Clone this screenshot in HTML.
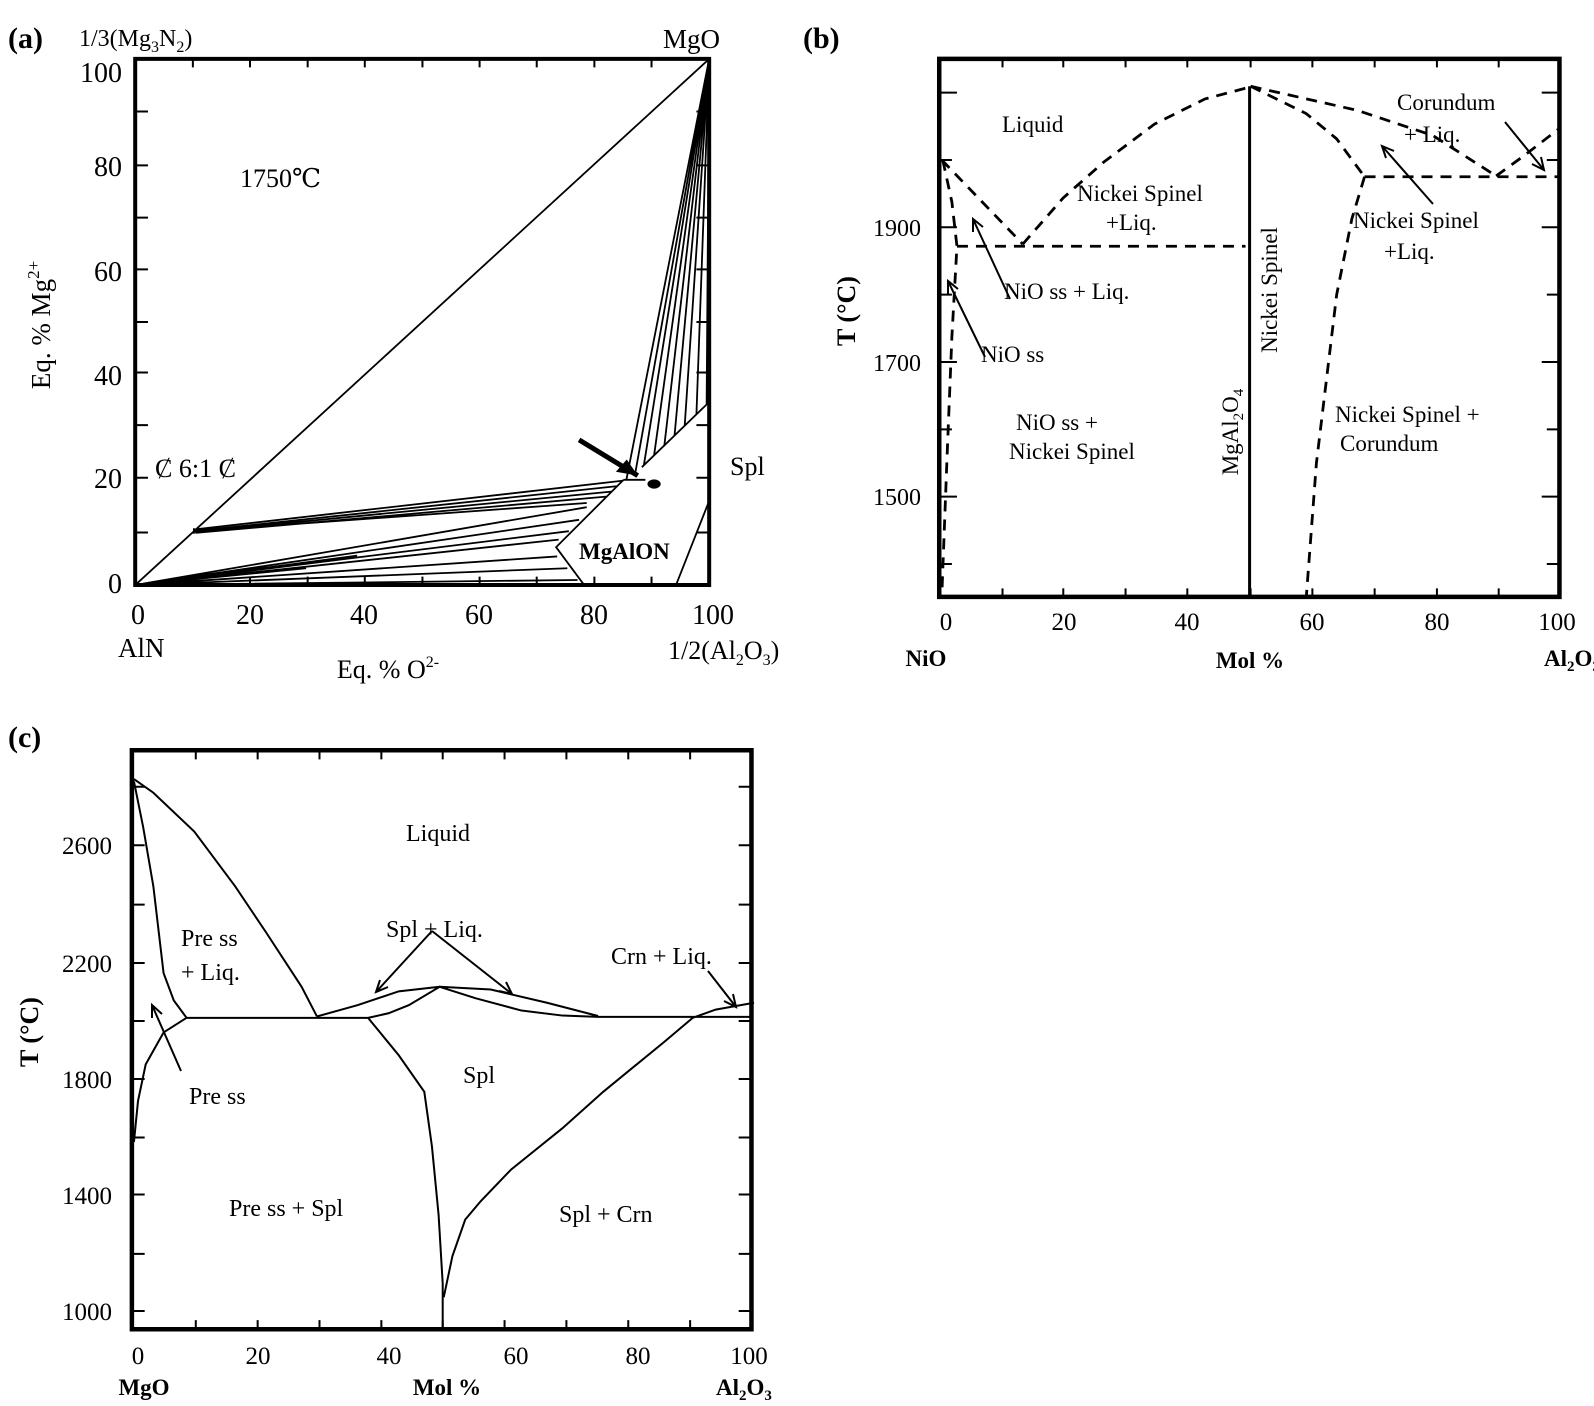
<!DOCTYPE html>
<html><head><meta charset="utf-8"><style>
html,body{margin:0;padding:0;background:#fff}
svg{display:block}
text{font-family:"Liberation Serif","DejaVu Serif",serif;fill:#000}
.b{font-weight:bold}
</style></head><body>
<svg width="1594" height="1406" viewBox="0 0 1594 1406" xmlns="http://www.w3.org/2000/svg">
<defs>
<marker id="ahf" markerUnits="userSpaceOnUse" markerWidth="60" markerHeight="60" refX="50" refY="30" orient="auto" viewBox="0 0 60 60">
<path d="M10 12 L50 30 L10 48 Z" fill="#000"/>
</marker>
</defs>

<!-- ============ PANEL A ============ -->
<g transform="scale(0.5102,0.4209)" fill="none" stroke="#000">
<rect x="265" y="140" width="1125" height="1250" stroke-width="4" vector-effect="non-scaling-stroke"/>
<path vector-effect="non-scaling-stroke" stroke-width="2" d="M378 1390V1370M490 1390V1370M603 1390V1370M715 1390V1370M828 1390V1370M940 1390V1370M1052 1390V1370M1165 1390V1370M1277 1390V1370
M378 140V160M490 140V160M603 140V160M715 140V160M828 140V160M940 140V160M1052 140V160M1165 140V160M1277 140V160
M265 265H290M265 393H290M265 517H290M265 640H290M265 765H290M265 885H290M265 1010H290M265 1135H290M265 1265H290
M1390 265H1365M1390 393H1365M1390 517H1365M1390 640H1365M1390 765H1365M1390 885H1365M1390 1010H1365M1390 1135H1365M1390 1265H1365"/>
<path vector-effect="non-scaling-stroke" stroke-width="1.8" d="M265 1390L1390 140
M1390 140L1228 1138M1390 140L1245 1125M1390 140L1262 1105M1390 140L1282 1082M1390 140L1302 1060M1390 140L1322 1036M1390 140L1342 1012M1390 140L1365 985M1390 140L1385 962
M1258 1110L1390 955
M1222 1140L1090 1300L1145 1390
M1222 1140L1265 1140
M1325 1390L1390 1190
M380 1258L1222 1142M380 1262L1210 1155M380 1264L1198 1168M383 1266L1188 1180M385 1262L1150 1195
M380 1255V1268
M265 1390L1150 1205M265 1390L1135 1235M265 1390L1115 1262M265 1390L1095 1282M265 1390L1092 1322M265 1390L1112 1350M265 1390L1132 1378
M265 1390L700 1320M265 1390L600 1350"/>
<path vector-effect="non-scaling-stroke" stroke-width="5" d="M1135 1045L1250 1130" marker-end="url(#ahf)"/>
<ellipse cx="1282" cy="1150" rx="13" ry="11" fill="#000" stroke="none"/>
</g>
<text class="b" x="8" y="48" font-size="30">(a)</text>
<text x="79" y="46" font-size="24">1/3(Mg<tspan font-size="16" dy="6">3</tspan><tspan dy="-6">N</tspan><tspan font-size="16" dy="6">2</tspan><tspan dy="-6">)</tspan></text>
<text x="663" y="48" font-size="27">MgO</text>
<g font-size="28" text-anchor="end">
<text x="122" y="82">100</text><text x="122" y="176">80</text><text x="122" y="281">60</text><text x="122" y="385">40</text><text x="122" y="488">20</text><text x="122" y="593">0</text>
</g>
<g font-size="28" text-anchor="middle">
<text x="138" y="624">0</text><text x="250" y="624">20</text><text x="364" y="624">40</text><text x="479" y="624">60</text><text x="594" y="624">80</text><text x="713" y="624">100</text>
</g>
<text x="118" y="657" font-size="27">AlN</text>
<text x="388" y="678" font-size="26" text-anchor="middle">Eq. % O<tspan font-size="16" dy="-11">2-</tspan></text>
<text x="668" y="659" font-size="26">1/2(Al<tspan font-size="16" dy="6">2</tspan><tspan dy="-6">O</tspan><tspan font-size="16" dy="6">3</tspan><tspan dy="-6">)</tspan></text>
<text x="240" y="187" font-size="26">1750℃</text>
<text x="155" y="477" font-size="26">Ȼ 6:1 Ȼ</text>
<text x="730" y="475" font-size="26">Spl</text>
<text class="b" x="579" y="559" font-size="23">MgAlON</text>
<text transform="translate(50,325) rotate(-90)" font-size="27" text-anchor="middle">Eq. % Mg<tspan font-size="17" dy="-11">2+</tspan></text>

<!-- ============ PANEL B ============ -->
<g transform="translate(800,0) scale(0.5063,0.4209)" fill="none" stroke="#000">
<rect x="275" y="140" width="1225" height="1278" stroke-width="4.5" vector-effect="non-scaling-stroke"/>
<path vector-effect="non-scaling-stroke" stroke-width="2" d="M400 1418V1398M520 1418V1398M643 1418V1398M765 1418V1398M890 1418V1398M1012 1418V1398M1135 1418V1398M1258 1418V1398M1380 1418V1398
M400 140V160M520 140V160M643 140V160M765 140V160M890 140V160M1012 140V160M1135 140V160M1258 140V160M1380 140V160
M275 220H310M275 380H300M275 540H310M275 700H300M275 860H310M275 1020H300M275 1180H310M275 1340H300
M1500 220H1465M1500 380H1475M1500 540H1465M1500 700H1475M1500 860H1465M1500 1020H1475M1500 1180H1465M1500 1340H1475"/>
<path vector-effect="non-scaling-stroke" stroke-width="3" d="M888 205V1418"/>
<path vector-effect="non-scaling-stroke" stroke-width="2.8" stroke-dasharray="11 8" d="M280 380L440 580
M440 580L520 470L600 385L700 295L800 235L885 208
M890 205L1000 270L1060 330L1115 420
M890 205L1100 262L1250 322L1375 418
M1375 418L1430 370L1500 305
M1115 420H1500
M310 585H880
M282 380L300 480L310 585L300 800L290 1100L280 1418
M1115 420L1090 520L1060 700L1040 900L1020 1100L1000 1418"/>
</g>
<g fill="none" stroke="#000" stroke-width="2">
<path d="M1010 299L973 219M973 232L973 219L983 227"/>
<path d="M985 357L948 281M948 294L948 281L958 289"/>
<path d="M1433 204L1382 146M1386 158L1382 146L1394 151"/>
<path d="M1505 122L1544 170M1541 157L1544 170L1532 164"/>
<path d="M432 931L376 992M388 987L376 992L380 980"/>
<path d="M432 931L512 994M506 982L512 994L499 991"/>
<path d="M181 1071L152 1005M152 1018L152 1005L162 1014"/>
<path d="M708 971L736 1007M733 994L736 1007L724 1001"/>
</g>
<text class="b" x="803" y="48" font-size="30">(b)</text>
<g font-size="24" text-anchor="end">
<text x="921" y="236">1900</text><text x="921" y="371">1700</text><text x="921" y="505">1500</text>
</g>
<g font-size="25" text-anchor="middle">
<text x="946" y="630">0</text><text x="1064" y="630">20</text><text x="1187" y="630">40</text><text x="1312" y="630">60</text><text x="1437" y="630">80</text><text x="1557" y="630">100</text>
</g>
<text class="b" x="926" y="666" font-size="23" text-anchor="middle">NiO</text>
<text class="b" x="1250" y="668" font-size="23" text-anchor="middle">Mol %</text>
<text class="b" x="1544" y="666" font-size="23">Al<tspan font-size="15" dy="5">2</tspan><tspan dy="-5">O</tspan><tspan font-size="15" dy="5">3</tspan></text>
<text class="b" transform="translate(855,311) rotate(-90)" font-size="26" text-anchor="middle">T (°C)</text>
<g font-size="23">
<text x="1002" y="132">Liquid</text>
<text x="1077" y="201">Nickei Spinel</text>
<text x="1106" y="230">+Liq.</text>
<text x="1004" y="299">NiO  ss + Liq.</text>
<text x="981" y="362">NiO ss</text>
<text x="1016" y="430">NiO ss +</text>
<text x="1009" y="459">Nickei Spinel</text>
<text x="1397" y="110">Corundum</text>
<text x="1404" y="142">+ Liq.</text>
<text x="1353" y="228">Nickei Spinel</text>
<text x="1384" y="259">+Liq.</text>
<text x="1335" y="422">Nickei Spinel +</text>
<text x="1340" y="451">Corundum</text>
<text transform="translate(1277,290) rotate(-90)" text-anchor="middle">Nickei Spinel</text>
<text transform="translate(1238,432) rotate(-90)" text-anchor="middle">MgAl<tspan font-size="15" dy="5">2</tspan><tspan dy="-5">O</tspan><tspan font-size="15" dy="5">4</tspan></text>
</g>

<!-- ============ PANEL C ============ -->
<g transform="translate(0,690) scale(0.5112,0.4566)" fill="none" stroke="#000">
<rect x="258" y="132" width="1212" height="1268" stroke-width="4.5" vector-effect="non-scaling-stroke"/>
<path vector-effect="non-scaling-stroke" stroke-width="2" d="M383 1400V1380M504 1400V1380M625 1400V1380M746 1400V1380M866 1400V1380M987 1400V1380M1108 1400V1380M1229 1400V1380M1350 1400V1380
M383 132V152M504 132V152M625 132V152M746 132V152M866 132V152M987 132V152M1108 132V152M1229 132V152M1350 132V152
M258 212H283M258 340H283M258 470H283M258 598H283M258 725H283M258 852H283M258 980H283M258 1105H283M258 1235H283M258 1360H283
M1470 212H1445M1470 340H1445M1470 470H1445M1470 598H1445M1470 725H1445M1470 852H1445M1470 980H1445M1470 1105H1445M1470 1235H1445M1470 1360H1445"/>
<path vector-effect="non-scaling-stroke" stroke-width="2" d="M262 195L300 225L380 310L460 430L520 530L590 650L620 715
M262 200L280 300L300 430L320 620L340 680L365 718
M365 718L320 750L285 820L270 900L262 990
M365 718H720
M620 715L700 690L780 660L860 650L960 656L1070 685L1170 714
M720 718L760 708L800 690L860 650L930 675L1020 702L1100 713L1170 716
M1170 716H1470
M1355 718L1400 700L1475 685
M720 718L780 800L830 880L845 1000L858 1150L866 1300L866 1400
M1355 718L1300 770L1180 880L1100 960L1000 1050L940 1120L910 1160L885 1240L868 1330"/>
</g>
<text class="b" x="8" y="747" font-size="30">(c)</text>
<g font-size="25" text-anchor="end">
<text x="112" y="854">2600</text><text x="112" y="972">2200</text><text x="112" y="1088">1800</text><text x="112" y="1204">1400</text><text x="112" y="1320">1000</text>
</g>
<g font-size="25" text-anchor="middle">
<text x="138" y="1364">0</text><text x="258" y="1364">20</text><text x="389" y="1364">40</text><text x="516" y="1364">60</text><text x="638" y="1364">80</text><text x="749" y="1364">100</text>
</g>
<text class="b" x="144" y="1395" font-size="23" text-anchor="middle">MgO</text>
<text class="b" x="447" y="1395" font-size="23" text-anchor="middle">Mol %</text>
<text class="b" x="716" y="1395" font-size="23">Al<tspan font-size="15" dy="5">2</tspan><tspan dy="-5">O</tspan><tspan font-size="15" dy="5">3</tspan></text>
<text class="b" transform="translate(38,1032) rotate(-90)" font-size="26" text-anchor="middle">T (°C)</text>
<g font-size="24">
<text x="406" y="841">Liquid</text>
<text x="181" y="946">Pre ss</text>
<text x="181" y="980">+ Liq.</text>
<text x="386" y="937">Spl + Liq.</text>
<text x="611" y="964">Crn + Liq.</text>
<text x="463" y="1083">Spl</text>
<text x="189" y="1104">Pre ss</text>
<text x="229" y="1216">Pre ss + Spl</text>
<text x="559" y="1222">Spl + Crn</text>
</g>
</svg>
</body></html>
